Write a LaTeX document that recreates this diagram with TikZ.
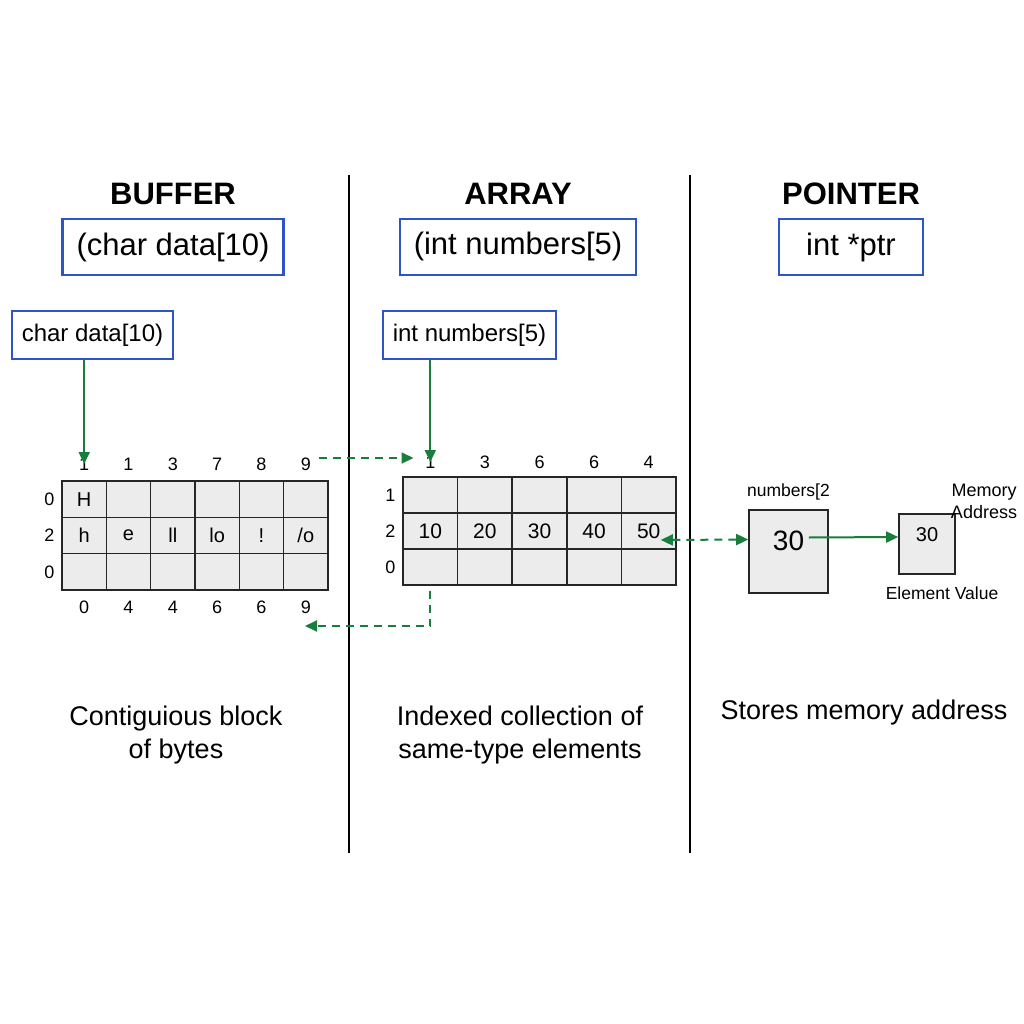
\documentclass[tikz,border=0pt]{standalone}
\usepackage{fontspec}
\setmainfont{Liberation Sans}
\usetikzlibrary{positioning,arrows.meta}
\definecolor{declblue}{RGB}{45,85,200}
\definecolor{linkgreen}{RGB}{25,125,60}
\definecolor{cellgray}{RGB}{236,236,236}
\newcommand\fs[2]{\fontsize{#1}{#2}\selectfont}

\begin{document}
\begin{tikzpicture}[
    x=1pt, y=-1pt, line width=1.6pt,
    >={Triangle[length=12pt,width=11pt]},
    title/.style={font=\fs{31}{36}\bfseries},
    decl/.style={draw=declblue, line width=2.2pt, minimum height=56pt, inner xsep=14pt, font=\fs{31}{34}},
    small decl/.style={decl, minimum height=48pt, inner xsep=10pt, font=\fs{24}{28}},
    cell/.style={draw=black!85, fill=cellgray, inner sep=0pt, font=\fs{20}{24}},
    idx/.style={font=\fs{18}{22}, inner sep=1pt},
    note/.style={font=\fs{27}{33}, align=center},
    tag/.style={font=\fs{17.5}{21}, align=center, inner sep=1pt},
    flow/.style={->, draw=linkgreen, line width=2pt},
    link/.style={flow, dash pattern=on 8pt off 6pt},
  ]

  \fill[white] (0,0) rectangle (1024,1024);
  \useasboundingbox (0,0) rectangle (1024,1024);

  % column separators
  \draw (349,175) -- (349,853);
  \draw (690,175) -- (690,853);

  \node[title] (buftitle) at (173,194) {BUFFER};
  \node[title] (arrtitle) at (518,194) {ARRAY};
  \node[title] (ptrtitle) at (851,194) {POINTER};

  \node[decl, below=9pt of buftitle] (bufdecl) {(char data[10)};
  \node[decl, below=9pt of arrtitle] (arrdecl) {(int numbers[5)};
  \node[decl, below=9pt of ptrtitle, minimum width=144pt] (ptrdecl) {int *ptr};

  \node[small decl] (bsmall) at (92.5,335) {char data[10)};
  \node[small decl] (asmall) at (469.5,335) {int numbers[5)};

  % buffer grid
  \begin{scope}[every node/.append style={cell, minimum width=44.33pt, minimum height=36.3pt}]
    \node (buf-1-1) at (84.2,499.2) {H};
    \foreach \c in {2,...,6}
      \node (buf-1-\c) at ({62+44.33*(\c-0.5)},499.2) {};
    \foreach \c/\t in {1/h,2/e,3/ll,4/lo,5/!,6/{/o}}
      \node (buf-2-\c) at ({62+44.33*(\c-0.5)},535.5) {\t};
    \foreach \c in {1,...,6}
      \node (buf-3-\c) at ({62+44.33*(\c-0.5)},571.8) {};
  \end{scope}
  \foreach \c/\v in {1/1,2/1,3/3,4/7,5/8,6/9}
    \node[idx] (btop\c) at (buf-1-\c |- 0,464) {\v};
  \foreach \c/\v in {1/0,2/4,3/4,4/6,5/6,6/9}
    \node[idx] (bbot\c) at (buf-3-\c |- 0,607) {\v};
  \foreach \r/\v in {1/0,2/2,3/0}
    \node[idx, left=5pt of buf-\r-1] (brow\r) {\v};

  % array grid
  \begin{scope}[every node/.append style={cell, minimum width=54.6pt, minimum height=36pt}]
    \foreach \c in {1,...,5}
      \node (arr-1-\c) at ({403+54.6*(\c-0.5)},495) {};
    \foreach \c/\v in {1/10,2/20,3/30,4/40,5/50}
      \node[font=\fs{21}{24}] (arr-2-\c) at ({403+54.6*(\c-0.5)},531) {\v};
    \foreach \c in {1,...,5}
      \node (arr-3-\c) at ({403+54.6*(\c-0.5)},567) {};
  \end{scope}
  \foreach \c/\v in {1/1,2/3,3/6,4/6,5/4}
    \node[idx] (atop\c) at (arr-1-\c |- 0,462) {\v};
  \foreach \r/\v in {1/1,2/2,3/0}
    \node[idx, left=5pt of arr-\r-1] (arow\r) {\v};

  % pointer
  \node[cell, minimum width=79pt, minimum height=83pt, font=\fs{28}{32}] (pval) at (788.5,551.5)
    {\raisebox{11pt}[\height][\depth]{30}};
  \node[cell, minimum width=56pt, minimum height=60pt] (pmem) at (927,544)
    {\raisebox{9pt}[\height][\depth]{30}};
  \node[tag, above=7pt of pval] (pname) {numbers[2};
  \node[tag, font=\fs{18}{22}] (paddr) at (984,501) {Memory\\Address};
  \node[tag, below=10pt of pmem, xshift=15pt] (pvalue) {Element Value};

  \node[note] (bufnote) at (176,735) {Contiguious block\\of bytes};
  \node[note] (arrnote) at (520,735) {Indexed collection of\\same-type elements};
  \node[note] (ptrnote) at (864,713) {Stores memory address};

  \draw[flow] (bsmall.south -| btop1) -- (btop1.center);
  \draw[flow] (asmall.south -| atop1) -- (atop1.center);
  \draw[link, shorten <=6pt, shorten >=10pt] ([yshift=6pt]btop6.east) -- ([yshift=6pt]btop6.east -| atop1.west);
  \coordinate (bret) at (305,626);
  \draw[link, shorten <=5pt] (arr-3-1.south) |- (bret);
  \draw[link, <->] ([xshift=-16pt,yshift=-9pt]arr-2-5.east) -- ([yshift=12pt]pval.west);
  \draw[flow] ([xshift=-20pt,yshift=14pt]pval.east) -- ([yshift=7pt]pmem.west);

\end{tikzpicture}
\end{document}
